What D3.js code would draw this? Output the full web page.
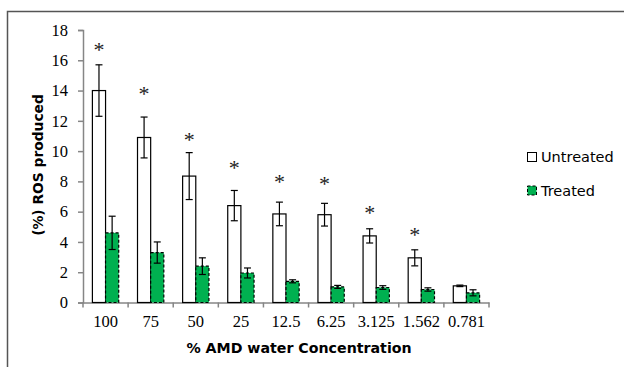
<!DOCTYPE html>
<html>
<head>
<meta charset="utf-8">
<script src="https://cdn.jsdelivr.net/npm/d3@7"></script>
<style>
  body { margin: 0; background: #fff; }
  svg { display: block; }
</style>
</head>
<body>
<div id="chart"></div>
<script>
// values

var categories = ["100", "75", "50", "25", "12.5", "6.25", "3.125", "1.562", "0.781"];
var series = ["Untreated", "Treated"];

var untreated    = [14.0, 10.9, 8.35, 6.4, 5.85, 5.8, 4.4, 2.95, 1.1];
var untreatedErr = [1.7, 1.35, 1.55, 1.0, 0.78, 0.75, 0.47, 0.53, 0.05];
var treated      = [4.6, 3.3, 2.4, 1.95, 1.4, 1.03, 0.99, 0.86, 0.64];
var treatedErr   = [1.1, 0.7, 0.55, 0.33, 0.1, 0.1, 0.12, 0.11, 0.2];

// asterisk marks (significance) - y value where each star sits, null = none
var stars = [17.0, 14.1, 11.05, 9.2, 8.3, 8.15, 6.25, 4.8, null];

var yTicks = [0, 2, 4, 6, 8, 10, 12, 14, 16, 18];

var width = 624, height = 367;
var margin = {top: 30, right: 109, bottom: 64, left: 83};

var svg = d3.select("#chart").append("svg")
  .attr("width", width)
  .attr("height", height);

// outer frame (runs off the right and bottom edge)
svg.append("path")
  .attr("d", "M7.5,372 V11.5 H630")
  .attr("fill", "none")
  .attr("stroke", "#555")
  .attr("stroke-width", 1.5);

var pad = 20 / 48;
var x = d3.scaleBand()
  .domain(categories)
  .range([margin.left, width - margin.right - 26])
  .paddingInner(pad)
  .paddingOuter(pad / 2);

var xSub = d3.scaleBand()
  .domain(series)
  .range([0, x.bandwidth()]);

var y = d3.scaleLinear()
  .domain([0, 18])
  .range([height - margin.bottom - 0.5, margin.top]);

var serif = "'Liberation Serif', 'Times New Roman', serif";
var gothic = "'DejaVu Sans', sans-serif";

// y axis
var yAxis = svg.append("g")
  .attr("transform", "translate(" + x.range()[0] + ",0)")
  .call(d3.axisLeft(y).tickValues(yTicks).tickSize(5).tickPadding(10));
yAxis.select(".domain").attr("stroke", "#868686").attr("stroke-width", 1.5);
yAxis.selectAll(".tick line").attr("stroke", "#868686").attr("stroke-width", 1.5);
yAxis.selectAll(".tick text")
  .attr("fill", "#000")
  .style("font-family", serif)
  .style("font-size", "16.5px");

// x axis: labels centred, ticks at category boundaries
var xAxis = svg.append("g")
  .attr("transform", "translate(0," + y(0) + ")")
  .call(d3.axisBottom(x).tickSize(0).tickPadding(13));
xAxis.select(".domain").attr("stroke", "#868686").attr("stroke-width", 1.5);
xAxis.selectAll(".tick text")
  .attr("fill", "#000")
  .style("font-family", serif)
  .style("font-size", "16.5px");

var bounds = d3.range(categories.length + 1).map(function(i) {
  return x.range()[0] + i * x.step();
});
xAxis.selectAll(".bound")
  .data(bounds)
  .enter().append("line")
  .attr("class", "bound")
  .attr("x1", function(d) { return d; })
  .attr("x2", function(d) { return d; })
  .attr("y1", 0)
  .attr("y2", 5)
  .attr("stroke", "#868686")
  .attr("stroke-width", 1.5);

// bars
var rows = categories.map(function(c, i) {
  return [
    {cat: c, key: "Untreated", value: untreated[i], err: untreatedErr[i]},
    {cat: c, key: "Treated", value: treated[i], err: treatedErr[i]}
  ];
});

var groups = svg.selectAll(".grp")
  .data(rows)
  .enter().append("g")
  .attr("class", "grp")
  .attr("transform", function(d) { return "translate(" + x(d[0].cat) + ",0)"; });

groups.selectAll("rect")
  .data(function(d) { return d; })
  .enter().append("rect")
  .attr("x", function(d) { return xSub(d.key); })
  .attr("width", xSub.bandwidth())
  .attr("y", function(d) { return y(d.value); })
  .attr("height", function(d) { return y(0) - y(d.value); })
  .attr("fill", function(d) { return d.key == "Treated" ? "#00b050" : "#fff"; })
  .attr("stroke", "#000")
  .attr("stroke-width", 1.2)
  .attr("stroke-dasharray", function(d) { return d.key == "Treated" ? "3,2" : null; });

// error bars
var eb = groups.selectAll(".err")
  .data(function(d) { return d; })
  .enter().append("g")
  .attr("class", "err")
  .attr("stroke", "#000")
  .attr("stroke-width", 1.2);

eb.append("line")
  .attr("x1", function(d) { return xSub(d.key) + xSub.bandwidth() / 2; })
  .attr("x2", function(d) { return xSub(d.key) + xSub.bandwidth() / 2; })
  .attr("y1", function(d) { return y(d.value + d.err); })
  .attr("y2", function(d) { return y(d.value - d.err); });

[1, -1].forEach(function(s) {
  eb.append("line")
    .attr("x1", function(d) { return xSub(d.key) + xSub.bandwidth() / 2 - 3.5; })
    .attr("x2", function(d) { return xSub(d.key) + xSub.bandwidth() / 2 + 3.5; })
    .attr("y1", function(d) { return y(d.value + s * d.err); })
    .attr("y2", function(d) { return y(d.value + s * d.err); });
});

// asterisks over untreated bars
svg.selectAll(".star")
  .data(categories.map(function(c, i) { return {cat: c, v: stars[i]}; })
    .filter(function(d) { return d.v != null; }))
  .enter().append("text")
  .attr("class", "star")
  .attr("x", function(d) { return x(d.cat) + xSub("Untreated") + xSub.bandwidth() / 2; })
  .attr("y", function(d) { return y(d.v) + 12; })
  .attr("text-anchor", "middle")
  .attr("fill", "#222")
  .style("font-family", serif)
  .style("font-size", "22px")
  .text("*");

// axis titles
svg.append("text")
  .attr("x", 299)
  .attr("y", 353)
  .attr("text-anchor", "middle")
  .style("font-family", gothic)
  .style("font-weight", "bold")
  .style("font-size", "14.2px")
  .text("% AMD water Concentration");

svg.append("text")
  .attr("transform", "translate(43,165) rotate(-90)")
  .attr("text-anchor", "middle")
  .style("font-family", gothic)
  .style("font-weight", "bold")
  .style("font-size", "13.8px")
  .text("(%) ROS produced");

// legend
var legend = svg.selectAll(".leg")
  .data(series)
  .enter().append("g")
  .attr("class", "leg")
  .attr("transform", function(d, i) { return "translate(527," + (152 + i * 33.5) + ")"; });

legend.append("rect")
  .attr("x", 0.5)
  .attr("y", 0.5)
  .attr("width", 9)
  .attr("height", 9)
  .attr("fill", function(d) { return d == "Treated" ? "#00b050" : "#fff"; })
  .attr("stroke", "#000")
  .attr("stroke-width", 1)
  .attr("stroke-dasharray", function(d) { return d == "Treated" ? "3,2" : null; });

legend.append("text")
  .attr("x", 14)
  .attr("y", 10)
  .style("font-family", gothic)
  .style("font-size", "14.5px")
  .text(function(d) { return d; });
</script>
</body>
</html>
